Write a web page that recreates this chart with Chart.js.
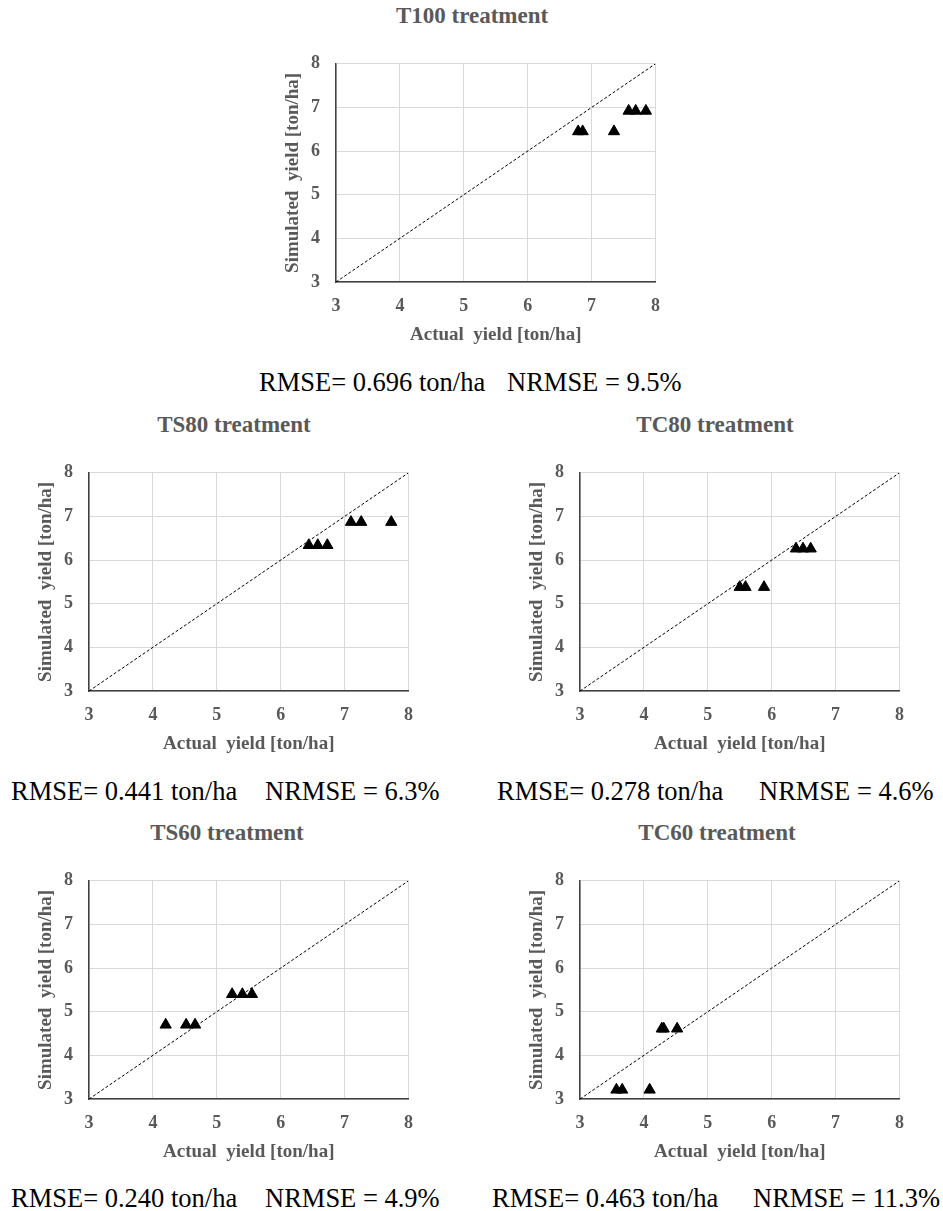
<!DOCTYPE html>
<html>
<head>
<meta charset="utf-8">
<script src="https://cdn.jsdelivr.net/npm/chart.js@4/dist/chart.umd.min.js"></script>
<style>
  html, body { margin: 0; padding: 0; background: #ffffff; }
  body { width: 943px; height: 1211px; position: relative; overflow: hidden; }
  canvas { position: absolute; }
  .ttl { position: absolute; font-weight: bold;
         font-size: 23px; line-height: 23px; color: #595959; white-space: pre; transform: translateX(-50%); }
  .stat { position: absolute; font-size: 26.5px;
          line-height: 26.5px; color: #000; white-space: pre; }
</style>
</head>
<body>
<script>
// ---- data ----
const axisTicks = [3, 4, 5, 6, 7, 8];

const t100Actual    = [6.79, 6.86, 7.35, 7.58, 7.69, 7.85];
const t100Simulated = [6.45, 6.45, 6.45, 6.92, 6.92, 6.92];

const ts80Actual    = [6.44, 6.58, 6.73, 7.10, 7.26, 7.73];
const ts80Simulated = [6.34, 6.34, 6.34, 6.87, 6.87, 6.87];

const tc80Actual    = [5.50, 5.59, 5.88, 6.38, 6.49, 6.61];
const tc80Simulated = [5.38, 5.38, 5.38, 6.26, 6.26, 6.26];

const ts60Actual    = [4.20, 4.52, 4.66, 5.24, 5.40, 5.55];
const ts60Simulated = [4.70, 4.70, 4.70, 5.40, 5.40, 5.40];

const tc60Actual    = [3.57, 3.66, 4.09, 4.28, 4.31, 4.52];
const tc60Simulated = [3.21, 3.21, 3.21, 4.61, 4.61, 4.61];

const panelTitles = ['T100 treatment', 'TS80 treatment', 'TC80 treatment', 'TS60 treatment', 'TC60 treatment'];
const rmseTexts   = ['RMSE= 0.696 ton/ha', 'RMSE= 0.441 ton/ha', 'RMSE= 0.278 ton/ha', 'RMSE= 0.240 ton/ha', 'RMSE= 0.463 ton/ha'];
const nrmseTexts  = ['NRMSE = 9.5%', 'NRMSE = 6.3%', 'NRMSE = 4.6%', 'NRMSE = 4.9%', 'NRMSE = 11.3%'];
const xAxisTitle = 'Actual  yield [ton/ha]';
const yAxisTitle = 'Simulated  yield [ton/ha]';

// ---- layout ----
const panels = [
  { actual: t100Actual, sim: t100Simulated, left: 247, top: 37,
    titleX: 472, titleTop: 4, statTop: 369, rmseX: 259, nrmseX: 507 },
  { actual: ts80Actual, sim: ts80Simulated, left: 0, top: 446,
    titleX: 234, titleTop: 413, statTop: 778, rmseX: 11, nrmseX: 265 },
  { actual: tc80Actual, sim: tc80Simulated, left: 491, top: 446,
    titleX: 715, titleTop: 413, statTop: 778, rmseX: 497, nrmseX: 759 },
  { actual: ts60Actual, sim: ts60Simulated, left: 0, top: 854,
    titleX: 227, titleTop: 821, statTop: 1185, rmseX: 11, nrmseX: 265 },
  { actual: tc60Actual, sim: tc60Simulated, left: 491, top: 854,
    titleX: 717, titleTop: 821, statTop: 1185, rmseX: 492, nrmseX: 753 }
];

// pick an installed Times-like serif font
function pickSerif() {
  const cands = ['Liberation Serif', 'Tinos', 'Times New Roman', 'Times', 'Nimbus Roman',
                 'Nimbus Roman No9 L', 'FreeSerif', 'DejaVu Serif', 'Noto Serif'];
  const c = document.createElement('canvas').getContext('2d');
  const s = 'abcdefghijklmnopqrstuvwxyzRMSE0123456789';
  const w = f => { c.font = '40px ' + f; return c.measureText(s).width; };
  const wm = w('monospace'), ws = w('sans-serif');
  for (const f of cands) {
    if (w('"' + f + '", monospace') !== wm && w('"' + f + '", sans-serif') !== ws) return '"' + f + '"';
  }
  return 'serif';
}
const FONT = pickSerif() + ', serif';
const GRAY = '#595959';
const axMin = axisTicks[0], axMax = axisTicks[axisTicks.length - 1];

function addText(cls, text, x, y) {
  const d = document.createElement('div');
  d.className = cls;
  d.textContent = text;
  d.style.fontFamily = FONT;
  d.style.left = x + 'px';
  d.style.top = y + 'px';
  document.body.appendChild(d);
}

panels.forEach((p, i) => {
  addText('ttl', panelTitles[i], p.titleX, p.titleTop);
  addText('stat', rmseTexts[i], p.rmseX, p.statTop);
  addText('stat', nrmseTexts[i], p.nrmseX, p.statTop);

  const cv = document.createElement('canvas');
  cv.width = 427; cv.height = 311;
  cv.style.left = p.left + 'px';
  cv.style.top = p.top + 'px';
  cv.style.width = '427px'; cv.style.height = '311px';
  document.body.appendChild(cv);

  const pts = p.actual.map((a, k) => ({ x: a, y: p.sim[k] }));

  new Chart(cv.getContext('2d'), {
    type: 'scatter',
    data: {
      datasets: [
        {
          data: [{ x: axMin, y: axMin }, { x: axMax, y: axMax }],
          showLine: true, pointRadius: 0, borderColor: '#000', borderWidth: 1,
          borderDash: [3, 2], order: 2
        },
        {
          data: pts, pointStyle: 'triangle', pointRadius: 6.5, pointHoverRadius: 6.5,
          backgroundColor: '#000', borderColor: '#000', borderWidth: 1, order: 1, clip: false
        }
      ]
    },
    options: {
      responsive: false, animation: false, devicePixelRatio: 1,
      layout: { padding: { left: 0, top: 12, right: 14, bottom: 0 } },
      plugins: { legend: { display: false }, tooltip: { enabled: false } },
      scales: {
        x: {
          type: 'linear', min: axMin, max: axMax,
          afterBuildTicks: s => { s.ticks = axisTicks.map(v => ({ value: v })); },
          afterFit: s => { s.height = 66; },
          ticks: { color: GRAY, font: { family: FONT, size: 18, weight: 'bold' }, padding: 14 },
          grid: { color: '#d9d9d9', lineWidth: 1, drawTicks: false },
          border: { color: '#404040', width: 1.5 },
          title: { display: true, text: xAxisTitle, color: GRAY,
                   font: { family: FONT, size: 19, weight: 'bold' }, padding: { top: 0, bottom: 2 } }
        },
        y: {
          type: 'linear', min: axMin, max: axMax,
          afterBuildTicks: s => { s.ticks = axisTicks.map(v => ({ value: v })); },
          afterFit: s => { s.width = 89; },
          ticks: { color: GRAY, font: { family: FONT, size: 18, weight: 'bold' }, padding: 16 },
          grid: { color: '#d9d9d9', lineWidth: 1, drawTicks: false },
          border: { color: '#404040', width: 1.5 },
          title: { display: true, text: yAxisTitle, color: GRAY,
                   font: { family: FONT, size: 19, weight: 'bold' }, padding: { top: 35, bottom: 0 } }
        }
      }
    }
  });
});
</script>
</body>
</html>
